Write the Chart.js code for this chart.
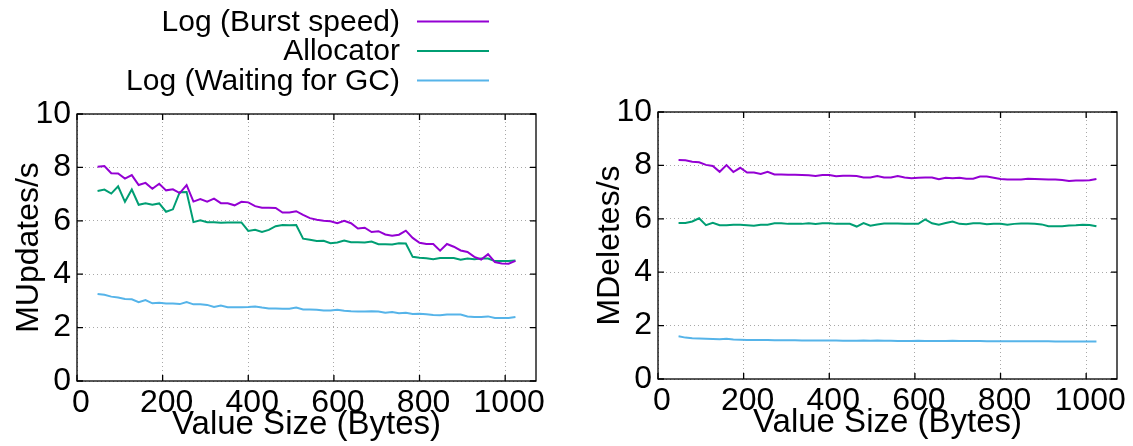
<!DOCTYPE html>
<html><head><meta charset="utf-8">
<script src="https://cdn.jsdelivr.net/npm/chart.js@4.4.1/dist/chart.umd.min.js"></script>
<style>
html,body{margin:0;padding:0;background:#fff;width:1133px;height:446px;overflow:hidden;position:relative;}
.box{position:absolute;width:560px;height:446px;}
#b1{left:0;top:0}
#b2{left:581px;top:-2px}
</style></head><body>
<div class="box" id="b1"><canvas id="c1" width="560" height="446"></canvas></div>
<div class="box" id="b2"><canvas id="c2" width="560" height="446"></canvas></div>
<script>
// ---- data ----
const valueSizes = [48,64,80,96,112,128,144,160,176,192,208,224,240,256,272,288,304,320,336,352,368,384,400,416,432,448,464,480,496,512,528,544,560,576,592,608,624,640,656,672,688,704,720,736,752,768,784,800,816,832,848,864,880,896,912,928,944,960,976,992,1008,1024];

const seriesNames = ['Log (Burst speed)', 'Allocator', 'Log (Waiting for GC)'];

const updBurst = [8.02,8.05,7.78,7.77,7.58,7.71,7.34,7.42,7.20,7.39,7.14,7.18,7.04,7.34,6.72,6.81,6.72,6.83,6.66,6.66,6.58,6.71,6.69,6.55,6.49,6.49,6.48,6.31,6.31,6.36,6.22,6.10,6.04,6.00,5.98,5.91,6.00,5.91,5.71,5.74,5.58,5.61,5.49,5.44,5.48,5.63,5.36,5.18,5.13,5.13,4.88,5.13,5.03,4.89,4.83,4.65,4.55,4.75,4.45,4.40,4.39,4.50];
const updAlloc = [7.12,7.17,7.02,7.29,6.71,7.17,6.60,6.66,6.60,6.65,6.34,6.43,7.07,7.08,5.95,6.02,5.95,5.95,5.93,5.94,5.94,5.94,5.62,5.66,5.58,5.66,5.80,5.84,5.83,5.84,5.33,5.29,5.24,5.25,5.16,5.19,5.26,5.20,5.20,5.19,5.22,5.12,5.12,5.11,5.16,5.15,4.65,4.62,4.60,4.56,4.61,4.61,4.61,4.54,4.59,4.56,4.59,4.59,4.49,4.49,4.49,4.51];
const updGC = [3.26,3.23,3.16,3.13,3.07,3.06,2.95,3.03,2.91,2.93,2.90,2.90,2.88,2.96,2.87,2.87,2.85,2.77,2.83,2.76,2.76,2.76,2.77,2.79,2.75,2.72,2.72,2.71,2.71,2.75,2.68,2.68,2.67,2.64,2.64,2.67,2.63,2.61,2.60,2.60,2.61,2.60,2.56,2.58,2.54,2.56,2.51,2.52,2.50,2.47,2.46,2.49,2.49,2.49,2.42,2.40,2.40,2.42,2.36,2.36,2.36,2.40];

const delBurst = [8.20,8.19,8.14,8.12,8.02,7.98,7.76,8.01,7.75,7.91,7.73,7.73,7.68,7.76,7.66,7.66,7.65,7.65,7.64,7.63,7.60,7.64,7.64,7.59,7.61,7.61,7.60,7.55,7.55,7.60,7.55,7.55,7.60,7.55,7.52,7.54,7.55,7.55,7.48,7.54,7.52,7.54,7.50,7.50,7.58,7.58,7.54,7.49,7.47,7.47,7.47,7.50,7.49,7.48,7.47,7.47,7.45,7.42,7.43,7.43,7.44,7.49];
const delAlloc = [5.84,5.84,5.90,6.02,5.76,5.85,5.76,5.76,5.78,5.78,5.76,5.74,5.78,5.78,5.83,5.83,5.81,5.81,5.81,5.83,5.81,5.83,5.83,5.81,5.81,5.81,5.71,5.84,5.74,5.79,5.82,5.82,5.82,5.81,5.81,5.81,5.98,5.83,5.78,5.84,5.90,5.81,5.80,5.83,5.83,5.80,5.81,5.81,5.78,5.81,5.82,5.82,5.81,5.79,5.72,5.72,5.72,5.75,5.76,5.78,5.77,5.72];
const delGC = [1.60,1.55,1.53,1.52,1.51,1.50,1.49,1.51,1.48,1.47,1.46,1.46,1.46,1.46,1.45,1.45,1.45,1.45,1.44,1.44,1.44,1.44,1.44,1.44,1.43,1.43,1.43,1.44,1.43,1.44,1.43,1.43,1.42,1.42,1.42,1.43,1.42,1.42,1.42,1.42,1.43,1.42,1.42,1.42,1.42,1.41,1.41,1.41,1.41,1.41,1.41,1.41,1.41,1.41,1.41,1.40,1.40,1.40,1.40,1.40,1.40,1.40];

const xTicks = [0,200,400,600,800,1000];
const yTicks = [0,2,4,6,8,10];
const xMax = 1072;
const colors = ['#9400d3', '#009e73', '#56b4e9'];

// ---- chart ----
Chart.defaults.font.family = '"Liberation Sans", Arial, Helvetica, sans-serif';
Chart.defaults.color = '#000';

function pts(arr){ return valueSizes.map((x,i)=>({x:x, y:arr[i]})); }

const framePlugin = {
  id: 'frame',
  afterDraw(chart){
    const {ctx, chartArea:{left,right,top,bottom}} = chart;
    const xs = chart.scales.x, ys = chart.scales.y;
    ctx.save();
    ctx.strokeStyle = '#000';
    ctx.lineWidth = 1.3;
    ctx.strokeRect(left, top, right-left, bottom-top);
    ctx.beginPath();
    const tl = 6;
    xs.ticks.forEach(t=>{
      const p = xs.getPixelForValue(t.value);
      ctx.moveTo(p, bottom); ctx.lineTo(p, bottom-tl);
      ctx.moveTo(p, top); ctx.lineTo(p, top+tl);
    });
    ys.ticks.forEach(t=>{
      const p = ys.getPixelForValue(t.value);
      ctx.moveTo(left, p); ctx.lineTo(left+tl, p);
      ctx.moveTo(right, p); ctx.lineTo(right-tl, p);
    });
    ctx.stroke();
    ctx.restore();
  }
};

const legendPlugin = {
  id: 'gpLegend',
  afterDraw(chart, args, opts){
    if(!opts.show) return;
    const ctx = chart.ctx;
    const rows = [21.5, 51, 80.5];
    ctx.save();
    ctx.font = '30px "Liberation Sans", Arial, sans-serif';
    ctx.textAlign = 'right';
    ctx.textBaseline = 'middle';
    chart.data.datasets.forEach((ds,i)=>{
      const y = rows[i];
      ctx.fillStyle = '#000';
      ctx.fillText(ds.label, 400, y+1);
      ctx.strokeStyle = ds.borderColor;
      ctx.lineWidth = 2;
      ctx.beginPath(); ctx.moveTo(417, y); ctx.lineTo(489, y); ctx.stroke();
    });
    ctx.restore();
  }
};

function makeChart(id, series, yTitle, showLegend){
  return new Chart(document.getElementById(id), {
    type: 'line',
    data: {
      datasets: series.map((s,i)=>({
        label: seriesNames[i],
        data: pts(s),
        borderColor: colors[i],
        backgroundColor: colors[i],
        borderWidth: 2,
        pointRadius: 0,
        tension: 0,
        fill: false
      }))
    },
    options: {
      responsive: false,
      animation: false,
      devicePixelRatio: 1,
      layout: { padding: { left: 0, right: 24, top: 114, bottom: 0 } },
      plugins: {
        legend: { display: false },
        tooltip: { enabled: false },
        gpLegend: { show: showLegend }
      },
      scales: {
        x: {
          type: 'linear',
          min: 0, max: xMax,
          afterBuildTicks: sc => { sc.ticks = xTicks.map(v=>({value:v})); },
          afterFit: sc => { sc.height = 65; },
          ticks: { font: { size: 32 }, color: '#000', padding: 3, labelOffset: 4, maxRotation: 0, autoSkip: false, includeBounds: false, callback: v => String(v) },
          grid: { color: '#a8a8a8', lineWidth: 1, drawTicks: false },
          border: { display: false, dash: [1, 3] },
          title: { display: true, text: 'Value Size (Bytes)', font: { size: 33 }, color: '#000', padding: { top: 0, bottom: 1 } }
        },
        y: {
          type: 'linear',
          min: 0, max: 10,
          afterBuildTicks: sc => { sc.ticks = yTicks.map(v=>({value:v})); },
          afterFit: sc => { sc.width = 77; },
          ticks: { font: { size: 32 }, color: '#000', padding: 6, callback: v => String(v) },
          grid: { color: '#a8a8a8', lineWidth: 1, drawTicks: false },
          border: { display: false, dash: [1, 3] },
          title: { display: true, text: yTitle, font: { size: 32 }, color: '#000', padding: { top: 10, bottom: 0 } }
        }
      }
    },
    plugins: [framePlugin, legendPlugin]
  });
}

makeChart('c1', [updBurst, updAlloc, updGC], 'MUpdates/s', true);
makeChart('c2', [delBurst, delAlloc, delGC], 'MDeletes/s', false);
</script>
</body></html>
